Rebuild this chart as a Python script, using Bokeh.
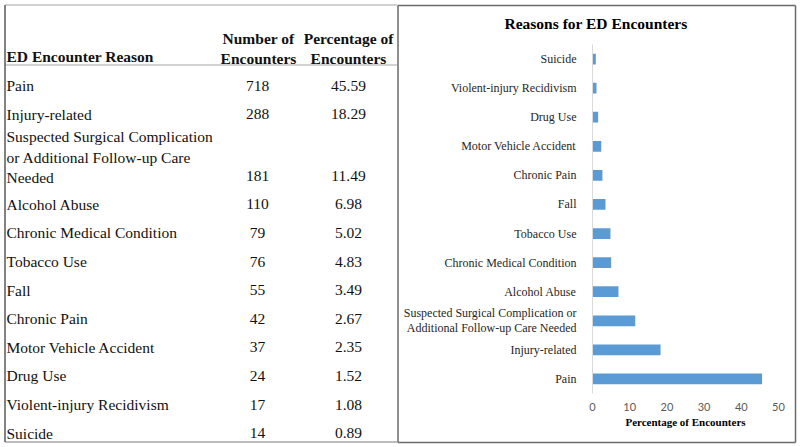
from bokeh.plotting import figure
from bokeh.models import Range1d, FactorRange, FixedTicker, InlineStyleSheet
from bokeh.embed import file_html
from bokeh.resources import INLINE
from bokeh.core.properties import value

# ---------------- data ----------------
table_reasons = [
    "Pain",
    "Injury-related",
    "Suspected Surgical Complication\nor Additional Follow-up Care\nNeeded",
    "Alcohol Abuse",
    "Chronic Medical Condition",
    "Tobacco Use",
    "Fall",
    "Chronic Pain",
    "Motor Vehicle Accident",
    "Drug Use",
    "Violent-injury Recidivism",
    "Suicide",
]
chart_labels = [
    "Pain",
    "Injury-related",
    "Suspected Surgical Complication or\nAdditional Follow-up Care Needed",
    "Alcohol Abuse",
    "Chronic Medical Condition",
    "Tobacco Use",
    "Fall",
    "Chronic Pain",
    "Motor Vehicle Accident",
    "Drug Use",
    "Violent-injury Recidivism",
    "Suicide",
]
counts = [718, 288, 181, 110, 79, 76, 55, 42, 37, 24, 17, 14]
percentages = [45.59, 18.29, 11.49, 6.98, 5.02, 4.83, 3.49, 2.67, 2.35, 1.52, 1.08, 0.89]
header_reason = "ED Encounter Reason"
header_count = "Number of\nEncounters"
header_pct = "Percentage of\nEncounters"
chart_title = "Reasons for ED Encounters"
x_axis_title = "Percentage of Encounters"
x_ticks = [0, 10, 20, 30, 40, 50]


def placed(left, top):
    css = f":host {{ position: absolute !important; left: {left}px !important; top: {top}px !important; }}"
    return dict(styles={"position": "absolute", "left": f"{left}px", "top": f"{top}px"},
                stylesheets=[InlineStyleSheet(css=css)])


# ---------------- background: table + panel frames ----------------
PW, PH = 800, 447
SERIF = "Liberation Serif"
FS_PX = 15.5

bg = figure(width=PW, height=PH, x_range=Range1d(0, PW), y_range=Range1d(PH, 0),
            output_backend="svg", toolbar_location=None, min_border=0,
            x_axis_type=None, y_axis_type=None, **placed(0, 0))
bg.outline_line_color = None

first_y, pitch = 85, 28.6
wrap_advance, wrap_line = 16.5, 18.5
col_reason_x, col_count_x, col_pct_x = 6, 257, 348

row_y, reason_y = [], []
extra = 0.0
for i, r in enumerate(table_reasons):
    n = r.count("\n")
    extra += n * wrap_advance
    yy = first_y + i * pitch + extra
    row_y.append(yy)
    reason_y.append(yy - n * wrap_line / 2)

common = dict(text_font=value(SERIF), text_font_size=f"{FS_PX}px",
              text_baseline="middle", text_line_height=wrap_line / FS_PX,
              text_color="#111111")
bg.text(x=[col_reason_x] * len(table_reasons), y=reason_y, text=table_reasons,
        text_align="left", **common)
bg.text(x=[col_count_x] * len(counts), y=row_y, text=[str(c) for c in counts],
        text_align="center", **common)
bg.text(x=[col_pct_x] * len(percentages), y=row_y, text=[f"{p:.2f}" for p in percentages],
        text_align="center", **common)

hdr = dict(common)
hdr["text_font_style"] = "bold"
hdr["text_line_height"] = 18.0 / FS_PX
bg.text(x=[col_reason_x], y=[56], text=[header_reason], text_align="left", **hdr)
bg.text(x=[col_count_x + 1, col_pct_x], y=[48, 48], text=[header_count, header_pct],
        text_align="center", **hdr)

# table rules
tbl_left, tbl_right = 4.5, 397
top_rule, header_rule, bottom_rule = 4.5, 64.5, 441.5
bg.segment(x0=[tbl_left] * 3, y0=[top_rule, header_rule, bottom_rule],
           x1=[tbl_right] * 3, y1=[top_rule, header_rule, bottom_rule],
           line_color="#a6a6a6", line_width=[1.2, 1.0, 1.6])
bg.segment(x0=[tbl_left], y0=[top_rule], x1=[tbl_left], y1=[bottom_rule],
           line_color="#5a5a5a", line_width=1.5)

# right panel frame
pl, pr, pt, pb = 397.5, 795, 5, 442
bg.segment(x0=[pl, pl, pl, pr], y0=[pt, pb, pt, pt], x1=[pr, pr, pl, pr], y1=[pt, pb, pb, pb],
           line_color="#6a6a6a", line_width=1.5)

# ---------------- bar chart (right) ----------------
CL, CT, CW, CH = 400, -3, 390, 443
c = figure(width=CW, height=CH, x_range=Range1d(0, 50),
           y_range=FactorRange(factors=chart_labels, range_padding=0),
           output_backend="svg", toolbar_location=None,
           min_border_left=190, min_border_right=CW - 190 - 188,
           min_border_top=47, min_border_bottom=47,
           title=chart_title, **placed(CL, CT))
c.background_fill_color = None
c.border_fill_color = None
c.hbar(y=chart_labels, right=percentages, left=0, height=0.37,
       fill_color="#5B9BD5", line_color=None)

c.outline_line_color = None
c.xgrid.visible = False
c.ygrid.visible = False

c.title.align = "left"
c.title.offset = -88
c.title.standoff = 25
c.title.vertical_align = "bottom"
c.title.text_font = SERIF
c.title.text_font_size = "15.5px"
c.title.text_font_style = "bold"
c.title.text_color = "#000000"

c.xaxis.ticker = FixedTicker(ticks=x_ticks)
c.xaxis.axis_line_color = None
c.xaxis.major_tick_line_color = None
c.xaxis.minor_tick_line_color = None
c.xaxis.major_label_text_font = "Lato"
c.xaxis.major_label_text_font_size = "11px"
c.xaxis.major_label_text_color = "#595959"
c.xaxis.major_label_standoff = 3
c.xaxis.axis_label = x_axis_title
c.xaxis.axis_label_text_font = SERIF
c.xaxis.axis_label_text_font_size = "11px"
c.xaxis.axis_label_text_font_style = "bold"
c.xaxis.axis_label_text_color = "#000000"
c.xaxis.axis_label_standoff = 2

c.yaxis.axis_line_color = "#d9d9d9"
c.yaxis.major_tick_line_color = None
c.yaxis.minor_tick_line_color = None
c.yaxis.major_label_text_font = SERIF
c.yaxis.major_label_text_font_size = "12px"
c.yaxis.major_label_text_color = "#262626"
c.yaxis.major_label_text_line_height = 1.1
c.yaxis.major_label_standoff = 10

open("out.html", "w").write(file_html([bg, c], INLINE))
